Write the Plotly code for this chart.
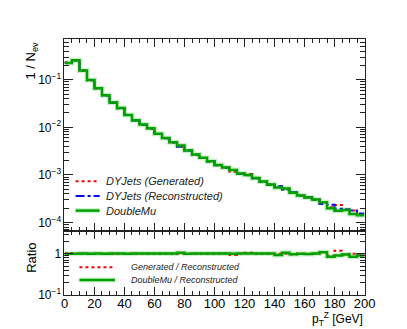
import plotly.graph_objects as go

# p_T^Z bins (GeV), lower edges, width 5
bin_lo = list(range(0, 200, 5))
x_edges = bin_lo + [200]

# normalised distributions 1/N_ev
dy_reco = [0.225, 0.255, 0.155, 0.098, 0.066, 0.047, 0.033, 0.0252, 0.0181, 0.0139,
           0.0113, 0.0094, 0.00725, 0.0059, 0.0048, 0.0039, 0.00325, 0.00265, 0.00226, 0.00192,
           0.00160, 0.00142, 0.00126, 0.00106, 0.00098, 0.00085, 0.00072, 0.00062, 0.00058, 0.00049,
           0.00043, 0.000368, 0.00034, 0.00030, 0.000245, 0.000235, 0.000195, 0.000190, 0.000178, 0.000155]
dy_gen = [0.232, 0.253, 0.156, 0.0975, 0.0662, 0.0468, 0.0331, 0.0251, 0.0182, 0.0139,
          0.0113, 0.00935, 0.00726, 0.0059, 0.00478, 0.00388, 0.00326, 0.00264, 0.00226, 0.00191,
          0.00159, 0.00143, 0.00117, 0.00106, 0.00104, 0.00085, 0.00072, 0.000618, 0.000578, 0.00049,
          0.000418, 0.000366, 0.000336, 0.000299, 0.000265, 0.000209, 0.000232, 0.000182, 0.000178, 0.000149]
double_mu = [0.226, 0.256, 0.156, 0.0985, 0.0665, 0.0472, 0.0332, 0.0254, 0.0182, 0.0140,
             0.0114, 0.0095, 0.00732, 0.00595, 0.00485, 0.00413, 0.00324, 0.00268, 0.00228, 0.00194,
             0.00161, 0.00143, 0.00126, 0.00107, 0.00099, 0.00086, 0.000725, 0.000625, 0.00054, 0.00052,
             0.00042, 0.00037, 0.000335, 0.000302, 0.000265, 0.000198, 0.000177, 0.000182, 0.00015, 0.000141]

ratio_gen = [g / r for g, r in zip(dy_gen, dy_reco)]
ratio_data = [d / r for d, r in zip(double_mu, dy_reco)]

main_yticks = [1e-4, 1e-3, 1e-2, 1e-1]
main_yticktext = ["10<sup>\u22124</sup>", "10<sup>\u22123</sup>", "10<sup>\u22122</sup>", "10<sup>\u22121</sup>"]
ratio_yticks = [0.1, 1]
ratio_yticktext = ["10<sup>\u22121</sup>", "1"]

main_legend = ["DYJets (Generated)", "DYJets (Reconstructed)", "DoubleMu"]
ratio_legend = ["Generated / Reconstructed", "DoubleMu / Reconstructed"]


def steps(vals):
    return vals + [vals[-1]]


FONT = "Liberation Sans, Arial, Helvetica, sans-serif"
RED = "#ff0000"
BLUE = "#0000ff"
GREEN = "#00a000"
HALO = "rgba(40,190,40,0.25)"

fig = go.Figure()

fig.add_trace(go.Scatter(x=x_edges, y=steps(dy_gen), mode="lines", line_shape="hv",
                         line=dict(color=RED, width=2, dash="dot"),
                         name=main_legend[0], xaxis="x", yaxis="y"))
fig.add_trace(go.Scatter(x=x_edges, y=steps(dy_reco), mode="lines", line_shape="hv",
                         line=dict(color=BLUE, width=2, dash="dashdot"),
                         name=main_legend[1], xaxis="x", yaxis="y"))
fig.add_trace(go.Scatter(x=x_edges, y=steps(double_mu), mode="lines", line_shape="hv",
                         line=dict(color=HALO, width=5),
                         hoverinfo="skip", xaxis="x", yaxis="y"))
fig.add_trace(go.Scatter(x=x_edges, y=steps(double_mu), mode="lines", line_shape="hv",
                         line=dict(color=GREEN, width=2.5),
                         name=main_legend[2], xaxis="x", yaxis="y"))

fig.add_trace(go.Scatter(x=x_edges, y=steps(ratio_gen), mode="lines", line_shape="hv",
                         line=dict(color=RED, width=2, dash="dot"),
                         name=ratio_legend[0], xaxis="x2", yaxis="y2"))
fig.add_trace(go.Scatter(x=x_edges, y=steps(ratio_data), mode="lines", line_shape="hv",
                         line=dict(color=HALO, width=5),
                         hoverinfo="skip", xaxis="x2", yaxis="y2"))
fig.add_trace(go.Scatter(x=x_edges, y=steps(ratio_data), mode="lines", line_shape="hv",
                         line=dict(color=GREEN, width=2.5),
                         name=ratio_legend[1], xaxis="x2", yaxis="y2"))

W, H = 407, 329
dom_x = [54.5 / W, 366 / W]
main_dom = [1 - 228 / H, 1 - 32 / H]
ratio_dom = [1 - 293 / H, 1 - 228 / H]

axcol = "#222222"
common_x = dict(range=[0, 200], domain=dom_x, showgrid=False, zeroline=False,
                showline=True, linecolor=axcol, linewidth=1, mirror="allticks",
                ticks="inside", ticklen=8, tickcolor=axcol, dtick=20, tick0=0,
                minor=dict(ticks="inside", ticklen=4, dtick=5, tickcolor=axcol),
                tickfont=dict(family=FONT, size=13, color="#000"))

minor_main = [k * 10 ** e for e in range(-5, 1) for k in range(2, 10)]
minor_ratio = [k * 10 ** e for e in range(-1, 1) for k in range(2, 10)]

fig.update_layout(
    width=W, height=H,
    margin=dict(l=0, r=0, t=0, b=0),
    paper_bgcolor="white", plot_bgcolor="white",
    font=dict(family=FONT, color="#000"),
    showlegend=False,
    xaxis=dict(common_x, anchor="y", showticklabels=False),
    yaxis=dict(type="log", domain=main_dom, range=[-4.183, -0.15], anchor="x",
               showgrid=False, zeroline=False, showline=True, linecolor=axcol, linewidth=1,
               mirror="allticks", ticks="inside", ticklen=9, tickcolor=axcol,
               tickmode="array", tickvals=main_yticks, ticktext=main_yticktext,
               minor=dict(ticks="inside", ticklen=5, tickcolor=axcol, tickmode="array", tickvals=minor_main),
               tickfont=dict(family=FONT, size=12, color="#000")),
    xaxis2=dict(common_x, anchor="y2", matches="x", showticklabels=True, ticklabelstandoff=-3),
    yaxis2=dict(type="log", domain=ratio_dom, range=[-1, 0.55], anchor="x2",
                showgrid=False, zeroline=False, showline=True, linecolor=axcol, linewidth=1,
                mirror="allticks", ticks="inside", ticklen=9, tickcolor=axcol,
                tickmode="array", tickvals=ratio_yticks, ticktext=ratio_yticktext,
                minor=dict(ticks="inside", ticklen=5, tickcolor=axcol, tickmode="array", tickvals=minor_ratio),
                tickfont=dict(family=FONT, size=12, color="#000")),
)

# hand-made legends (ROOT TLegend style)
styles_main = [dict(color=RED, width=2, dash="dot"),
               dict(color=BLUE, width=2, dash="dashdot"),
               dict(color=GREEN, width=2.5)]
for i, (name, st) in enumerate(zip(main_legend, styles_main)):
    yp = 1 - (177 + 15 * i) / H
    if i == 2:
        fig.add_shape(type="line", xref="paper", yref="paper", x0=66 / W, x1=91 / W, y0=yp, y1=yp,
                      line=dict(color=HALO, width=5))
    fig.add_shape(type="line", xref="paper", yref="paper", x0=66 / W, x1=91 / W, y0=yp, y1=yp, line=st)
    fig.add_annotation(text=name, xref="paper", yref="paper", x=96 / W, y=yp, xanchor="left",
                       yanchor="middle", showarrow=False,
                       font=dict(family=FONT, size=11, color="#222", style="italic"))

styles_ratio = [dict(color=RED, width=2, dash="dot"), dict(color=GREEN, width=2.5)]
for i, (name, st) in enumerate(zip(ratio_legend, styles_ratio)):
    yp = 1 - (265 + 13 * i) / H
    if i == 1:
        fig.add_shape(type="line", xref="paper", yref="paper", x0=70 / W, x1=107 / W, y0=yp, y1=yp,
                      line=dict(color=HALO, width=5))
    fig.add_shape(type="line", xref="paper", yref="paper", x0=70 / W, x1=107 / W, y0=yp, y1=yp, line=st)
    fig.add_annotation(text=name, xref="paper", yref="paper", x=121 / W, y=yp, xanchor="left",
                       yanchor="middle", showarrow=False,
                       font=dict(family=FONT, size=9, color="#222", style="italic"))

fig.add_annotation(text="1 / N<sub>ev</sub>", textangle=-90, xref="paper", yref="paper",
                   x=20 / W, y=1 - 32 / H, xanchor="center", yanchor="top", showarrow=False,
                   font=dict(family=FONT, size=13, color="#000"))
fig.add_annotation(text="Ratio", textangle=-90, xref="paper", yref="paper",
                   x=20 / W, y=1 - 255 / H, xanchor="center", yanchor="middle", showarrow=False,
                   font=dict(family=FONT, size=13, color="#000"))
fig.add_annotation(text="p<sub>T</sub><sup>Z</sup> [GeV]", xref="paper", yref="paper",
                   x=367 / W, y=0, xanchor="right", yanchor="bottom", showarrow=False,
                   font=dict(family=FONT, size=12, color="#000"))

fig.write_html("out.html")
